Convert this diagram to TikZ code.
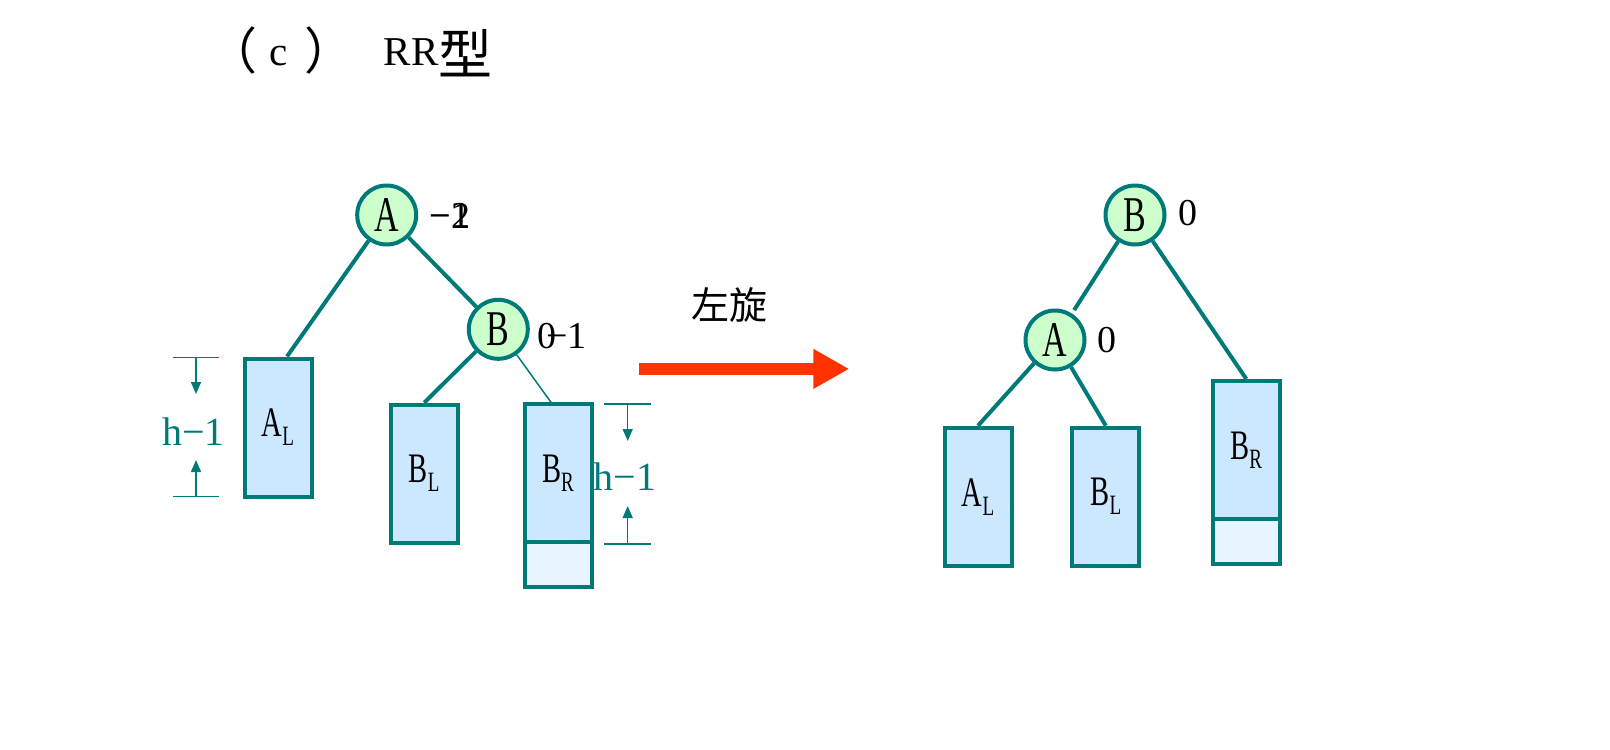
\documentclass[tikz,border=0pt]{standalone}
\usepackage{fontspec}
\setmainfont{Liberation Serif}
\newfontfamily\cjkfont{Noto Sans CJK SC}
\newfontfamily\narrowfont[FakeStretch=0.68]{Liberation Serif}
\usetikzlibrary{arrows.meta,positioning}

\definecolor{avlteal}{RGB}{0,122,120}
\definecolor{nodegreen}{RGB}{204,255,204}
\definecolor{treeblue}{RGB}{204,232,255}
\definecolor{paleblue}{RGB}{232,244,255}
\definecolor{rotred}{RGB}{255,51,0}

\newcommand{\setsize}[1]{\fontsize{#1}{#1}\selectfont}
\newcommand{\subtree}[2]{#1\raisebox{-9pt}{\setsize{28}#2}}

\begin{document}
\begin{tikzpicture}[x=1pt,y=-1pt,>=latex]
\tikzstyle{avl}=[circle, draw=avlteal, fill=nodegreen, line width=4pt, minimum size=59pt, inner sep=0pt, font=\narrowfont\setsize{50}]
\tikzstyle{tree}=[rectangle, draw=avlteal, fill=treeblue, line width=4pt, minimum width=67pt, minimum height=138pt, inner sep=0pt, font=\narrowfont\setsize{42}]
\tikzstyle{extra}=[rectangle, draw=avlteal, fill=paleblue, line width=4pt, minimum width=67pt, minimum height=45pt, inner sep=0pt]
\tikzstyle{bal}=[inner sep=0pt, font=\setsize{38}]
\tikzstyle{edge}=[draw=avlteal, line width=4pt]
\tikzstyle{dim}=[draw=avlteal, line width=1.5pt]
\tikzstyle{dimarrow}=[dim, -{Triangle[length=12pt,width=10pt]}]
\tikzstyle{dimtext}=[text=avlteal, inner sep=0pt, font=\setsize{40}]

\useasboundingbox (0,0) rectangle (1610,750);

% title
\node[anchor=base west, inner sep=0pt, font=\setsize{41}] (title) at (207.5,65)
  {\raisebox{-4pt}{\cjkfont\setsize{50}（}\hspace{12pt}c\hspace{17pt}\raisebox{-4pt}{\cjkfont\setsize{50}）}\hspace{29pt}RR\raisebox{-9pt}{\cjkfont\setsize{54}型}};

% before the rotation
\node[avl] (A) at (386.7,215) {A};
\node[avl] (B) at (498.3,329.3) {B};
\node[tree] (AL) at (278,427.5) {\subtree{A}{L}};
\node[tree] (BL) at (424.2,473.7) {\subtree{B}{L}};
\node[tree] (BR) at (558,473.3) {\subtree{B}{R}};
\node[extra, below=-4pt of BR] (BRx) {};

\node[bal] (balA1) at (450,216) {−1};
\node[bal] (balA2) at (450,216) {−2};
\node[bal, anchor=west] (balB0) at (537,336) {0};
\node[bal, anchor=east] (balB1) at (587,336) {−1};

\draw[edge] (A) -- ([xshift=9pt]AL.north);
\draw[edge] (A) -- (B);
\draw[edge] (B) -- (BL.north);
\draw[draw=avlteal, line width=1.5pt] (B) -- ([xshift=-7pt]BR.north);

% heights h-1
\coordinate (hLtop1) at (173.3,357.3);
\coordinate (hLtop2) at (219.3,357.3);
\coordinate (hLbot1) at (173.3,496.7);
\coordinate (hLbot2) at (219.3,496.7);
\coordinate (hLdown) at (196,357.3);
\coordinate (hLdownE) at (196,394);
\coordinate (hLup) at (196,496.7);
\coordinate (hLupE) at (196,460);
\draw[dim] (hLtop1) -- (hLtop2);
\draw[dim] (hLbot1) -- (hLbot2);
\draw[dimarrow] (hLdown) -- (hLdownE);
\draw[dimarrow] (hLup) -- (hLupE);
\node[dimtext] (hL) at (193.3,431.7) {h−1};

\coordinate (hRtop1) at (604.3,404);
\coordinate (hRtop2) at (651,404);
\coordinate (hRbot1) at (604.3,544);
\coordinate (hRbot2) at (651,544);
\coordinate (hRdown) at (627.7,404);
\coordinate (hRdownE) at (627.7,441);
\coordinate (hRup) at (627.7,544);
\coordinate (hRupE) at (627.7,506);
\draw[dim] (hRtop1) -- (hRtop2);
\draw[dim] (hRbot1) -- (hRbot2);
\draw[dimarrow] (hRdown) -- (hRdownE);
\draw[dimarrow] (hRup) -- (hRupE);
\node[dimtext] (hR) at (625,476.7) {h−1};

% rotation
\coordinate (rotS) at (639.3,368.9);
\coordinate (rotE) at (849.3,368.9);
\draw[rotred, line width=12.3pt, -{Triangle[length=36pt,width=37.4pt]}] (rotS) -- (rotE);
\node[inner sep=0pt, font=\cjkfont\setsize{38}] (rot) at (729,305.5) {左旋};

% after the rotation
\node[avl] (rB) at (1135,215) {B};
\node[avl] (rA) at (1055,340) {A};
\node[tree] (rAL) at (978,496.7) {\subtree{A}{L}};
\node[tree] (rBL) at (1105.8,496.7) {\subtree{B}{L}};
\node[tree] (rBR) at (1246.3,450) {\subtree{B}{R}};
\node[extra, below=-4pt of rBR] (rBRx) {};

\node[bal] (balrB) at (1188,213) {0};
\node[bal] (balrA) at (1107,340) {0};

\draw[edge, shorten >=4pt] (rB) -- (rA);
\draw[edge] (rB) -- (rBR.north);
\draw[edge] (rA) -- (rAL.north);
\draw[edge] (rA) -- (rBL.north);
\end{tikzpicture}
\end{document}
